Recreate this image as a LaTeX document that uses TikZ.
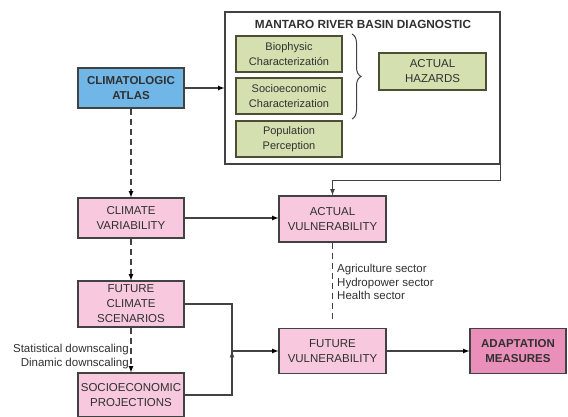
\documentclass[tikz,border=0pt]{standalone}
\usepackage{fontspec}
\setmainfont{Liberation Sans}
\usetikzlibrary{arrows,decorations.pathreplacing}

\definecolor{atlasblue}{RGB}{112,182,230}
\definecolor{diaggreen}{RGB}{212,224,176}
\definecolor{vulpink}{RGB}{247,200,222}
\definecolor{adappink}{RGB}{234,142,186}
\definecolor{edgegray}{RGB}{66,66,66}
\definecolor{textgray}{RGB}{48,48,48}

\tikzset{
  box/.style={draw=edgegray, line width=1.1pt, align=center, inner sep=0pt,
    minimum width=106pt, text=textgray, font=\fontsize{11.5}{15}\selectfont},
  pinkbox/.style={box, fill=vulpink, minimum height=45pt},
  greenbox/.style={box, draw=edgegray!80!olive, fill=diaggreen, minimum height=36pt,
    font=\fontsize{11}{14.5}\selectfont},
  boldbox/.style={font=\bfseries\fontsize{11.5}{15}\selectfont},
  lbl/.style={inner sep=0pt, text=textgray, font=\fontsize{11.5}{13.2}\selectfont},
  conn/.style={draw=edgegray, line width=1.2pt},
  dashconn/.style={conn, dash pattern=on 6pt off 4pt}
}

\begin{document}
\begin{tikzpicture}[x=1pt, y=-1pt, >=latex]
        \useasboundingbox (0,0) rectangle (568,417);
        % diagnostic block
        \node[draw=edgegray, line width=1.2pt, minimum width=275pt, minimum height=152pt] (diag) at (362.5,88) {};
        \node[lbl, font=\bfseries\fontsize{11.8}{13}\selectfont] (diagtitle) at (363,24) {MANTARO RIVER BASIN DIAGNOSTIC};
        \node[greenbox] (bio) at (289,54) {Biophysic\\Characterizatión};
        \node[greenbox] (socio) at (289,96) {Socioeconomic\\Characterization};
        \node[greenbox] (popul) at (289,139) {Population\\Perception};
        \node[greenbox, minimum width=107pt, minimum height=37pt, font=\fontsize{11.5}{15}\selectfont] (hazards) at (432.5,71.5) {ACTUAL\\HAZARDS};
        \draw[conn, line width=1pt, decorate, decoration={brace, amplitude=9pt}] (352,34) -- (352,119);
        % left column
        \node[box, boldbox, fill=atlasblue, minimum height=40pt] (atlas) at (131,88) {CLIMATOLOGIC\\ATLAS};
        \node[pinkbox, minimum height=40pt] (climvar) at (131,218) {CLIMATE\\VARIABILITY};
        \node[pinkbox, minimum height=46pt] (futclim) at (131,304) {FUTURE\\CLIMATE\\SCENARIOS};
        \node[pinkbox, minimum height=44pt] (socproj) at (131,395) {SOCIOECONOMIC\\PROJECTIONS};
        % middle and right
        \node[pinkbox, minimum width=107pt, minimum height=46pt] (actvul) at (332.5,219) {ACTUAL\\VULNERABILITY};
        \node[pinkbox, minimum width=107pt] (futvul) at (332.5,351) {FUTURE\\VULNERABILITY};
        \node[pinkbox, boldbox, fill=adappink, minimum width=96pt] (adapt) at (518,351) {ADAPTATION\\MEASURES};
        % labels
        \node[lbl, anchor=east, align=right] (downscal) at (129,356.5) {Statistical downscaling\\Dinamic downscaling};
        \node[lbl, anchor=west, align=left] (sectors) at (337,282) {Agriculture sector\\Hydropower sector\\Health sector};
        \coordinate (join) at (232,351);

        \path[conn, ->]
        (atlas.east) edge (atlas.east -| diag.west)
        (climvar.east) edge (climvar.east -| actvul.west)
        (futvul) edge (adapt)
        (join) edge (futvul)
        ;
        \path[dashconn, ->]
        (atlas) edge (climvar)
        (climvar) edge (futclim)
        (futclim) edge (socproj)
        ;
        \draw[dashconn, shorten >=6pt] (actvul) -- (futvul);
        \draw[conn, ->] (diag.south east) -- ++(0,16) -| (actvul.north);
        \draw[conn] (futclim.east) -| (join) |- (socproj.east);
\end{tikzpicture}
\end{document}
